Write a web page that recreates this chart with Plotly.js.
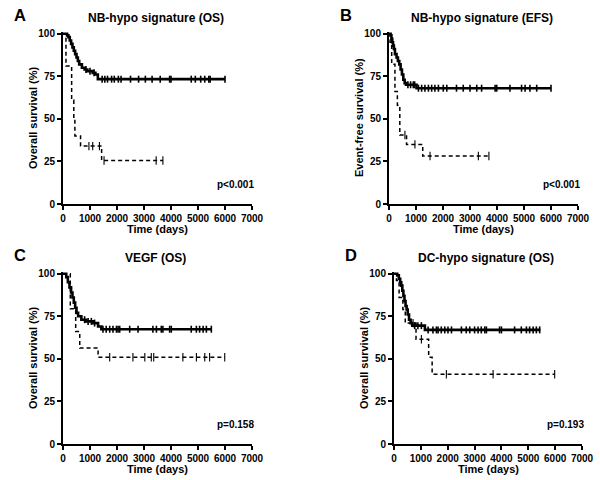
<!DOCTYPE html>
<html>
<head>
<meta charset="utf-8">
<script src="https://cdn.plot.ly/plotly-3.0.1.min.js"></script>
<style>html,body{margin:0;padding:0;background:#fff;}#chart{width:600px;height:480px;}</style>
</head>
<body>
<div id="chart"></div>
<script>
// ---- Data ----
const xTicks = [0,1000,2000,3000,4000,5000,6000,7000];
const yTicks = [0,25,50,75,100];

// Panel A: NB-hypo signature (OS)
const A_hi_t = [0,150,200,250,300,350,400,450,500,550,600,700,800,900,1000,1100,1200,1290];
const A_hi_s = [100,99,98,96,94,92,90,88,86,84,82,80,79,78,78,77,76,73.3];
const A_hi_end = 6000;
const A_hi_cens = [850,1000,1150,1450,1550,1650,1800,1900,2050,2150,2500,2800,3050,3300,3600,3950,4000,4750,4900,5100,5250,5400,5450,6000];
const A_lo_t = [0,110,320,400,440,650,1430];
const A_lo_s = [100,81,61,50,40,34,25.5];
const A_lo_end = 3700;
const A_lo_cens = [960,1100,1350,1520,3450,3700];

// Panel B: NB-hypo signature (EFS)
const B_hi_t = [0,60,90,120,150,180,220,280,330,380,430,480,530,580,630,1020];
const B_hi_s = [100,99,97,95,93,91,88,86,84,82,79,76,73,71,70,68];
const B_hi_end = 6000;
const B_hi_cens = [700,800,900,950,1090,1210,1330,1460,1580,1700,1830,2010,2140,2500,2750,3000,3250,3430,3930,3990,4480,4910,5040,5220,5470,6000];
const B_lo_t = [0,40,100,220,310,400,650,1250];
const B_lo_s = [100,95,82,66,58,40.5,35,28.2];
const B_lo_end = 3700;
const B_lo_cens = [590,960,1520,3310,3700];

// Panel C: VEGF (OS)
const C_hi_t = [0,120,180,240,300,350,400,450,500,560,680,860,1110,1300,1420];
const C_hi_s = [100,98,95,92,89,86,83,80,77,75,73,72,71,69,67.4];
const C_hi_end = 5494;
const C_hi_cens = [800,930,1050,1170,1480,1600,1730,1850,1980,2040,2100,2470,2780,3330,3460,3640,3700,3950,4010,4750,4940,5060,5190,5310,5494];
const C_lo_t = [0,270,470,620,1300];
const C_lo_s = [100,79.4,66,56.3,50.9];
const C_lo_end = 5990;
const C_lo_cens = [1730,2590,3030,3270,3360,4440,4940,5250,5430,5990];

// Panel D: DC-hypo signature (OS)
const D_hi_t = [0,120,180,230,270,310,350,390,430,470,510,560,620,680,1150];
const D_hi_s = [100,99,97,95,93,90,87,84,81,79,76,73,71,69.5,67];
const D_hi_end = 5450;
const D_hi_cens = [770,890,1020,1270,1450,1580,1640,1760,1890,2010,2140,2510,2690,2820,3000,3130,3250,3380,3440,3930,4000,4490,4740,4930,5050,5180,5300,5424];
const D_lo_t = [0,90,190,330,420,820,1290,1420];
const D_lo_s = [100,96,86,79,71,61.5,51,41];
const D_lo_end = 5983;
const D_lo_cens = [710,1020,1950,3690,5983];

const titles = ["NB-hypo signature (OS)","NB-hypo signature (EFS)","VEGF (OS)","DC-hypo signature (OS)"];
const letters = ["A","B","C","D"];
const yTitles = ["Overall survival (%)","Event-free survival (%)","Overall survival (%)","Overall survival (%)"];
const pTexts = ["p<0.001","p<0.001","p=0.158","p=0.193"];
const xTitle = "Time (days)";

// ---- Helpers ----
function survAt(t, s, x){ let v = s[0]; for(let i=0;i<t.length;i++){ if(t[i]<=x) v=s[i]; } return v; }

const W=600, H=480;
const panels = [
  {hi:[A_hi_t,A_hi_s,A_hi_end,A_hi_cens], lo:[A_lo_t,A_lo_s,A_lo_end,A_lo_cens], px:[63,252], py:[32,204]},
  {hi:[B_hi_t,B_hi_s,B_hi_end,B_hi_cens], lo:[B_lo_t,B_lo_s,B_lo_end,B_lo_cens], px:[389,578], py:[32,204]},
  {hi:[C_hi_t,C_hi_s,C_hi_end,C_hi_cens], lo:[C_lo_t,C_lo_s,C_lo_end,C_lo_cens], px:[63,252], py:[272,444]},
  {hi:[D_hi_t,D_hi_s,D_hi_end,D_hi_cens], lo:[D_lo_t,D_lo_s,D_lo_end,D_lo_cens], px:[394,582], py:[272,444]}
];

const traces = [];
const layout = {width:W,height:H,margin:{l:0,r:0,t:0,b:0},showlegend:false,
  paper_bgcolor:'#fff',plot_bgcolor:'#fff',annotations:[],
  font:{family:'Liberation Sans, Arial, sans-serif',color:'#000'}};
const fnt = (sz)=>({family:'Liberation Sans, Arial, sans-serif',size:sz,color:'#000',weight:'bold'});

panels.forEach((p,i)=>{
  const k = i===0 ? '' : String(i+1);
  const xa = 'x'+k, ya = 'y'+k;
  [['hi',2.6,'solid'],['lo',1.5,'4px,3px']].forEach(([key,w,dash])=>{
    const [t,s,end,cens] = p[key];
    traces.push({type:'scatter',mode:'lines',xaxis:xa,yaxis:ya,
      x:t.concat([end]), y:s.concat([s[s.length-1]]),
      line:{shape:'hv',color:'#000',width:w,dash:dash},cliponaxis:false,hoverinfo:'skip'});
    traces.push({type:'scatter',mode:'markers',xaxis:xa,yaxis:ya,
      x:cens, y:cens.map(c=>survAt(t,s,c)),
      marker:{symbol:'line-ns',size:key==='hi'?5:6,line:{color:'#000',width:key==='hi'?1.6:1.1}},
      cliponaxis:false,hoverinfo:'skip'});
  });
  const xd=[p.px[0]/W,p.px[1]/W], yd=[1-p.py[1]/H,1-p.py[0]/H];
  layout['xaxis'+k] = {domain:xd,anchor:ya,range:[0,7000],tickvals:xTicks,ticktext:xTicks.map(String),
    showline:true,linewidth:2,linecolor:'#000',ticks:'outside',ticklen:4,tickwidth:2,tickcolor:'#000',
    showgrid:false,zeroline:false,tickfont:fnt(10),fixedrange:true};
  layout['yaxis'+k] = {domain:yd,anchor:xa,range:[0,101],tickvals:yTicks,ticktext:yTicks.map(String),
    showline:true,linewidth:2,linecolor:'#000',ticks:'outside',ticklen:4,tickwidth:2,tickcolor:'#000',
    showgrid:false,zeroline:false,tickfont:fnt(10),fixedrange:true};
  const cx=(p.px[0]+p.px[1])/2;
  const A=layout.annotations;
  A.push({xref:'paper',yref:'paper',x:(p.px[0]-51)/W,y:1-(p.py[0]-17)/H,text:letters[i],showarrow:false,
    xanchor:'left',yanchor:'middle',font:fnt(16.5)});
  A.push({xref:'paper',yref:'paper',x:(cx-2)/W,y:1-(p.py[0]-14)/H,text:titles[i],showarrow:false,
    xanchor:'center',yanchor:'middle',font:fnt(12)});
  A.push({xref:'paper',yref:'paper',x:cx/W,y:1-(p.py[1]+25)/H,text:xTitle,showarrow:false,
    xanchor:'center',yanchor:'middle',font:fnt(11)});
  A.push({xref:'paper',yref:'paper',x:(p.px[0]-30)/W,y:1-((p.py[0]+p.py[1])/2)/H,text:yTitles[i],showarrow:false,
    textangle:-90,xanchor:'center',yanchor:'middle',font:fnt(11)});
  A.push({xref:'paper',yref:'paper',x:(p.px[1]+4)/W,y:1-(p.py[1]-20)/H,text:pTexts[i],showarrow:false,
    xanchor:'right',yanchor:'middle',font:fnt(10)});
});

Plotly.newPlot('chart',traces,layout,{staticPlot:true,displayModeBar:false});
</script>
</body>
</html>
